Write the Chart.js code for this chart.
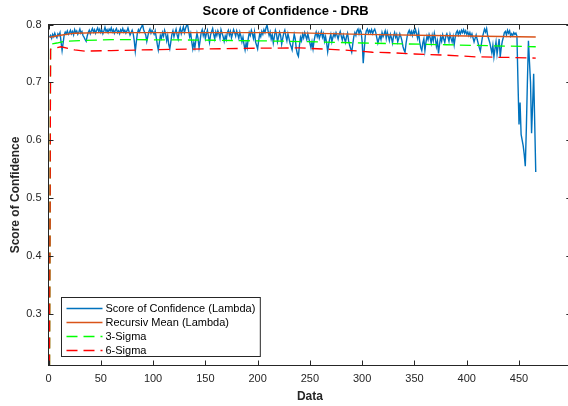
<!DOCTYPE html>
<html>
<head>
<meta charset="utf-8">
<script src="https://cdn.jsdelivr.net/npm/chart.js@4.4.1/dist/chart.umd.min.js"></script>
<style>
  body { margin:0; background:#fff; }
  #wrap { width:568px; height:406px; overflow:hidden; }
</style>
</head>
<body>
<div id="wrap"><canvas id="scoreChart" width="580" height="406"></canvas></div>
<script>
// tick labels
const xTicks = [0, 50, 100, 150, 200, 250, 300, 350, 400, 450];
const yTicks = [0.3, 0.4, 0.5, 0.6, 0.7, 0.8];

// Score of Confidence (Lambda), one value per data sample (x = 1..466)
const scoreVals = [
  0.778,0.781,0.776,0.783,0.779,0.785,0.780,0.777,0.784,0.781,
  0.786,0.770,0.755,0.768,0.782,0.787,0.784,0.789,0.783,0.786,
  0.790,0.784,0.788,0.782,0.791,0.786,0.789,0.783,0.787,0.792,
  0.785,0.788,0.781,0.778,0.774,0.771,0.780,0.786,0.790,0.784,
  0.789,0.793,0.787,0.791,0.785,0.790,0.794,0.788,0.792,0.786,
  0.790,0.784,0.789,0.795,0.788,0.791,0.786,0.792,0.789,0.794,
  0.787,0.791,0.785,0.790,0.793,0.786,0.789,0.784,0.791,0.788,
  0.793,0.787,0.790,0.785,0.789,0.794,0.788,0.782,0.786,0.790,
  0.784,0.772,0.754,0.770,0.785,0.791,0.787,0.793,0.796,0.800,
  0.791,0.786,0.782,0.771,0.780,0.788,0.792,0.785,0.790,0.787,
  0.783,0.789,0.778,0.766,0.756,0.768,0.781,0.776,0.786,0.780,
  0.790,0.784,0.772,0.781,0.765,0.758,0.770,0.783,0.789,0.779,
  0.786,0.792,0.782,0.775,0.788,0.794,0.784,0.790,0.796,0.786,
  0.793,0.798,0.800,0.789,0.779,0.785,0.770,0.758,0.769,0.760,
  0.774,0.785,0.776,0.760,0.772,0.786,0.791,0.781,0.788,0.776,
  0.784,0.790,0.779,0.769,0.782,0.788,0.793,0.783,0.775,0.787,
  0.781,0.789,0.784,0.776,0.791,0.785,0.779,0.771,0.780,0.774,
  0.786,0.790,0.782,0.788,0.777,0.784,0.791,0.786,0.780,0.789,
  0.783,0.776,0.787,0.780,0.770,0.778,0.765,0.756,0.768,0.760,
  0.775,0.786,0.781,0.790,0.784,0.776,0.787,0.770,0.764,0.758,
  0.772,0.784,0.779,0.788,0.783,0.791,0.786,0.794,0.799,0.789,
  0.781,0.787,0.775,0.782,0.768,0.779,0.790,0.784,0.770,0.778,
  0.787,0.781,0.766,0.776,0.785,0.790,0.780,0.772,0.784,0.776,
  0.767,0.762,0.756,0.771,0.783,0.775,0.758,0.749,0.745,0.764,
  0.778,0.772,0.783,0.777,0.786,0.780,0.774,0.784,0.776,0.768,
  0.760,0.770,0.758,0.772,0.781,0.787,0.779,0.785,0.776,0.782,
  0.788,0.778,0.784,0.771,0.779,0.768,0.753,0.766,0.776,0.783,
  0.770,0.778,0.784,0.779,0.786,0.781,0.775,0.783,0.788,0.780,
  0.773,0.782,0.776,0.769,0.779,0.785,0.772,0.764,0.758,0.752,
  0.766,0.779,0.786,0.781,0.789,0.792,0.784,0.791,0.787,0.770,
  0.733,0.758,0.781,0.789,0.792,0.785,0.790,0.786,0.791,0.784,
  0.789,0.792,0.786,0.777,0.768,0.775,0.781,0.774,0.786,0.779,
  0.784,0.789,0.776,0.787,0.780,0.772,0.783,0.777,0.768,0.780,
  0.786,0.778,0.783,0.770,0.776,0.784,0.779,0.772,0.762,0.756,
  0.752,0.768,0.779,0.786,0.790,0.783,0.788,0.781,0.789,0.785,
  0.791,0.784,0.776,0.787,0.770,0.760,0.755,0.768,0.775,0.755,
  0.769,0.780,0.774,0.783,0.777,0.768,0.781,0.772,0.785,0.776,
  0.762,0.771,0.750,0.766,0.778,0.771,0.782,0.775,0.769,0.780,
  0.784,0.778,0.771,0.783,0.776,0.770,0.779,0.765,0.778,0.786,
  0.789,0.782,0.788,0.784,0.790,0.786,0.791,0.785,0.789,0.783,
  0.787,0.781,0.786,0.779,0.784,0.777,0.770,0.776,0.782,0.774,
  0.767,0.760,0.754,0.766,0.778,0.785,0.792,0.787,0.793,0.781,
  0.775,0.769,0.760,0.751,0.764,0.744,0.758,0.770,0.749,0.762,
  0.775,0.744,0.760,0.771,0.778,0.786,0.788,0.782,0.790,0.785,
  0.789,0.780,0.784,0.781,0.786,0.783,0.785,0.780,0.700,0.627,
  0.665,0.610,0.600,0.590,0.575,0.555,0.620,0.700,0.772,0.735,
  0.700,0.612,0.660,0.715,0.630,0.545
];

// Recursiv Mean (Lambda) - smooth, read at a few x positions
const meanX = [1, 10, 25, 50, 150, 230, 300, 400, 466];
const meanY = [0.778, 0.781, 0.785, 0.786, 0.786, 0.786, 0.783, 0.780, 0.7785];

// 3-Sigma
const sig3X = [1, 2, 8, 15, 30, 60, 150, 230, 300, 380, 466];
const sig3Y = [0.2105, 0.766, 0.768, 0.771, 0.772, 0.774, 0.773, 0.771, 0.768, 0.765, 0.7615];

// 6-Sigma
const sig6X = [1, 2, 5, 12, 25, 35, 60, 120, 200, 240, 270, 290, 310, 330, 350, 380, 410, 440, 466];
const sig6Y = [0.2105, 0.757, 0.7585, 0.7615, 0.756, 0.754, 0.755, 0.757, 0.759, 0.7595, 0.757, 0.755, 0.752, 0.751, 0.749, 0.747, 0.744, 0.743, 0.742];

const axisCol = '#262626';
const fontFam = '"Liberation Sans", Arial, Helvetica, sans-serif';

function toPts(xs, ys) {
  return xs.map((x, i) => ({ x: x, y: ys[i] }));
}

// matlab style box with inward ticks + legend inside the axes
const matlabAxes = {
  id: 'matlabAxes',
  afterDatasetsDraw(chart) {
    const c = chart.ctx, a = chart.chartArea;
    const sx = chart.scales.x, sy = chart.scales.y;
    c.save();
    c.strokeStyle = axisCol;
    c.lineWidth = 1;
    c.strokeRect(a.left, a.top, a.right - a.left, a.bottom - a.top);
    c.beginPath();
    xTicks.forEach(v => {
      const px = Math.round(sx.getPixelForValue(v)) + 0.5;
      c.moveTo(px, a.bottom); c.lineTo(px, a.bottom - 5);
      c.moveTo(px, a.top); c.lineTo(px, a.top + 5);
    });
    yTicks.forEach(v => {
      const py = Math.round(sy.getPixelForValue(v)) + 0.5;
      c.moveTo(a.left, py); c.lineTo(a.left + 5, py);
      c.moveTo(a.right, py); c.lineTo(a.right - 5, py);
    });
    c.stroke();

    // legend
    const ds = chart.data.datasets;
    c.font = '11px ' + fontFam;
    let maxW = 0;
    ds.forEach(d => { maxW = Math.max(maxW, c.measureText(d.label).width); });
    const bx = a.left + 13, by = a.bottom - 68, bw = 44 + maxW + 5, bh = 59;
    c.fillStyle = '#fff';
    c.fillRect(bx, by, bw, bh);
    c.strokeRect(bx, by, bw, bh);
    ds.forEach((d, i) => {
      const ry = by + 11 + i * 14;
      c.beginPath();
      c.strokeStyle = d.borderColor;
      c.lineWidth = d.borderWidth;
      c.setLineDash(d.borderDash || []);
      c.moveTo(bx + 5, ry); c.lineTo(bx + 41, ry);
      c.stroke();
      c.setLineDash([]);
      c.fillStyle = '#000';
      c.textBaseline = 'middle';
      c.fillText(d.label, bx + 44, ry + 0.5);
    });
    c.restore();
  }
};

const chart = new Chart(document.getElementById('scoreChart'), {
  type: 'line',
  data: {
    datasets: [
      {
        label: 'Score of Confidence (Lambda)',
        data: scoreVals.map((v, i) => ({ x: i + 1, y: v })),
        borderColor: '#0072BD',
        borderWidth: 1.4,
        pointRadius: 0,
        order: 4
      },
      {
        label: 'Recursiv Mean (Lambda)',
        data: toPts(meanX, meanY),
        borderColor: '#D95319',
        borderWidth: 1.4,
        pointRadius: 0,
        order: 3
      },
      {
        label: '3-Sigma',
        data: toPts(sig3X, sig3Y),
        borderColor: '#00FF00',
        borderWidth: 1.3,
        borderDash: [11, 6],
        pointRadius: 0,
        order: 2
      },
      {
        label: '6-Sigma',
        data: toPts(sig6X, sig6Y),
        borderColor: '#FF0000',
        borderWidth: 1.3,
        borderDash: [11, 6],
        pointRadius: 0,
        order: 1
      }
    ]
  },
  options: {
    responsive: false,
    animation: false,
    devicePixelRatio: 1,
    layout: { padding: { left: 0, right: 8.7, top: 0, bottom: 0 } },
    plugins: {
      legend: { display: false },
      tooltip: { enabled: false },
      title: {
        display: true,
        text: 'Score of Confidence - DRB',
        color: '#000',
        font: { family: fontFam, size: 13, weight: 'bold', lineHeight: 1.2 },
        padding: { top: 4, bottom: 4.9 }
      }
    },
    scales: {
      x: {
        type: 'linear',
        min: 0,
        max: 500,
        grid: { display: false, drawTicks: false },
        border: { display: false },
        afterBuildTicks: ax => { ax.ticks = xTicks.map(v => ({ value: v })); },
        afterFit: ax => { ax.height = 40.5; },
        ticks: {
          color: axisCol,
          padding: 7,
          maxRotation: 0,
          font: { family: fontFam, size: 11 },
          callback: v => String(v)
        },
        title: {
          display: true,
          text: 'Data',
          color: axisCol,
          font: { family: fontFam, size: 12, weight: 'bold', lineHeight: 1.2 },
          padding: { top: 0, bottom: 2 }
        }
      },
      y: {
        min: 0.2105,
        max: 0.8,
        grid: { display: false, drawTicks: false },
        border: { display: false },
        afterBuildTicks: ax => { ax.ticks = yTicks.map(v => ({ value: v })); },
        afterFit: ax => { ax.width = 48.5; },
        ticks: {
          color: axisCol,
          padding: 7,
          font: { family: fontFam, size: 11 },
          callback: v => v.toFixed(1)
        },
        title: {
          display: true,
          text: 'Score of Confidence',
          color: axisCol,
          font: { family: fontFam, size: 12, weight: 'bold', lineHeight: 1.2 },
          padding: { top: 8, bottom: 0 }
        }
      }
    }
  },
  plugins: [matlabAxes]
});
</script>
</body>
</html>
